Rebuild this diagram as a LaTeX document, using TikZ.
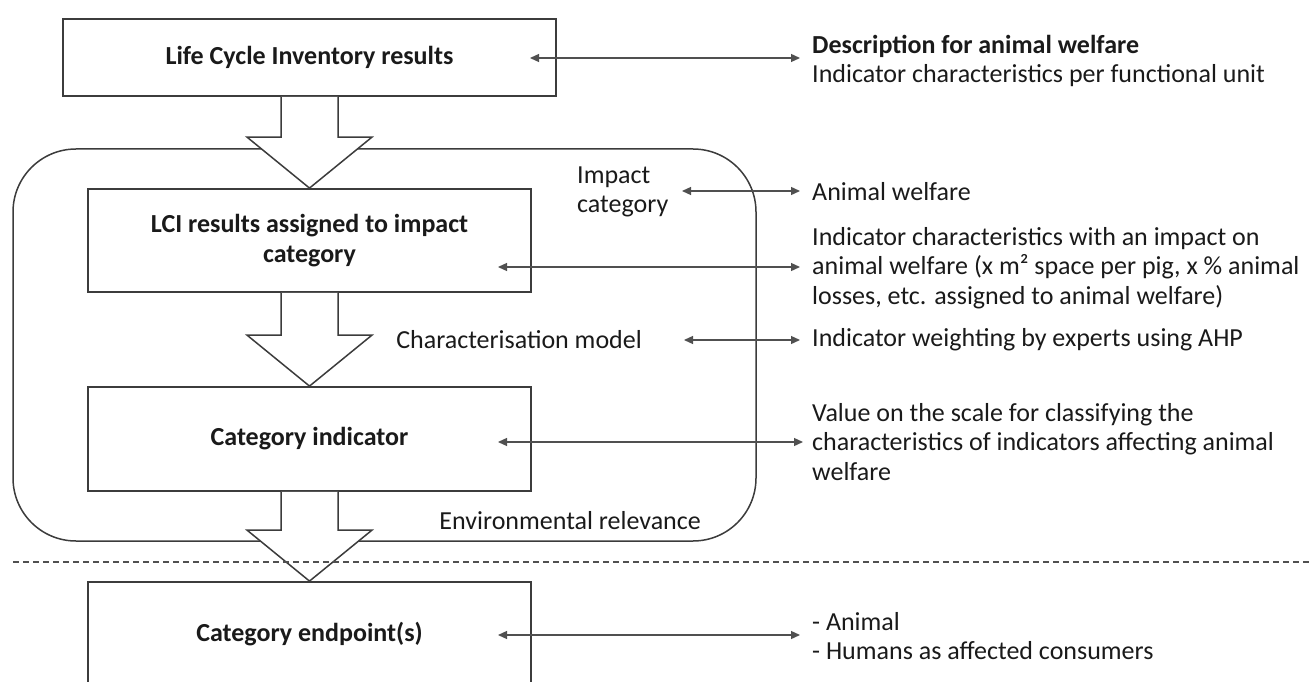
\documentclass[tikz,border=0pt]{standalone}
\usepackage{fontspec}
\setmainfont{Carlito}
\usetikzlibrary{arrows.meta,calc}
\definecolor{linegray}{HTML}{3C3C3C}
\definecolor{ink}{HTML}{1A1A1A}
\definecolor{thingray}{HTML}{505050}
\begin{document}
\begin{tikzpicture}[x=1pt,y=-1pt,
  stagebox/.style={draw=linegray,line width=1.8pt,fill=white,inner sep=0pt,
    minimum width=443pt,minimum height=104pt,align=center,text=ink,
    font=\fontsize{26}{30}\selectfont\bfseries},
  note/.style={inner sep=0pt,text=ink,align=left,
    font=\fontsize{26}{29.5}\selectfont},
  frame/.style={draw=linegray,line width=1.5pt,rounded corners=63pt},
  blockarrow/.style={draw=linegray,line width=1.5pt,fill=white,line join=miter},
  dbl/.style={draw=thingray,line width=1.3pt,
    {Triangle[length=9pt,width=8pt]}-{Triangle[length=9pt,width=8pt]}},
  divider/.style={draw=thingray,line width=1.5pt,dash pattern=on 6pt off 4pt}]

\useasboundingbox (0,0) rectangle (1310,682);
\clip (0,0) rectangle (1310,682);

% the LCIA frame
\draw[frame] (13,149) rectangle (756,541);

% stages
\node[stagebox,minimum width=493pt,minimum height=77pt] (b1) at (309.5,57.5) {Life Cycle Inventory results};
\node[stagebox,minimum height=103pt] (b2) at (309.5,240.5) {LCI results assigned to impact\\category};
\node[stagebox] (b3) at (309.5,439) {Category indicator};
\node[stagebox] (b4) at (309.5,634) {Category endpoint(s)};

% broad arrows between the stages
\foreach \a/\b in {b1/b2,b2/b3,b3/b4}{
  \draw[blockarrow]
    ($(\a.south)+(-28.5,0)$) -- ($(\b.north)+(-28.5,-51)$) -- ($(\b.north)+(-62.5,-51)$)
    -- (\b.north) -- ($(\b.north)+(62.5,-51)$) -- ($(\b.north)+(28.5,-51)$)
    -- ($(\a.south)+(28.5,0)$);
}

% dashed divider
\draw[divider] (13,562) -- (1310,562);

% labels inside the frame
\node[note,anchor=west] (lic) at (577,192) {Impact\\category};
\node[note,anchor=east] (lcm) at (642,340) {Characterisation model};
\node[note,anchor=east] (ler) at (701,521) {Environmental relevance};

% descriptions on the right
\node[note,anchor=west] (t1) at (812,61) {\textbf{Description for animal welfare}\\Indicator characteristics per functional unit};
\node[note,anchor=west] (t2) at (812,192) {Animal welfare};
\node[note,anchor=west] (t3) at (812,268) {Indicator characteristics with an impact on\\animal welfare (x m² space per pig, x \% animal\\losses, etc. assigned to animal welfare)};
\node[note,anchor=west] (t4) at (812,340) {Indicator weighting by experts using AHP};
\node[note,anchor=west] (t5) at (812,442) {Value on the scale for classifying the\\characteristics of indicators affecting animal\\welfare};
\node[note,anchor=west] (t6) at (812,636) {- Animal\\- Humans as affected consumers};

% arrow end points
\coordinate (a1) at (530,58);   \coordinate (e1) at (800,58);
\coordinate (a2) at (682,191);  \coordinate (e2) at (800,191);
\coordinate (a3) at (498,267);  \coordinate (e3) at (800,267);
\coordinate (a4) at (684,340);  \coordinate (e4) at (800,340);
\coordinate (a5) at (498,442);  \coordinate (e5) at (803,442);
\coordinate (a6) at (498,635);  \coordinate (e6) at (800,635);

\foreach \i in {1,...,6}{\draw[dbl] (a\i) -- (e\i);}
\end{tikzpicture}
\end{document}
